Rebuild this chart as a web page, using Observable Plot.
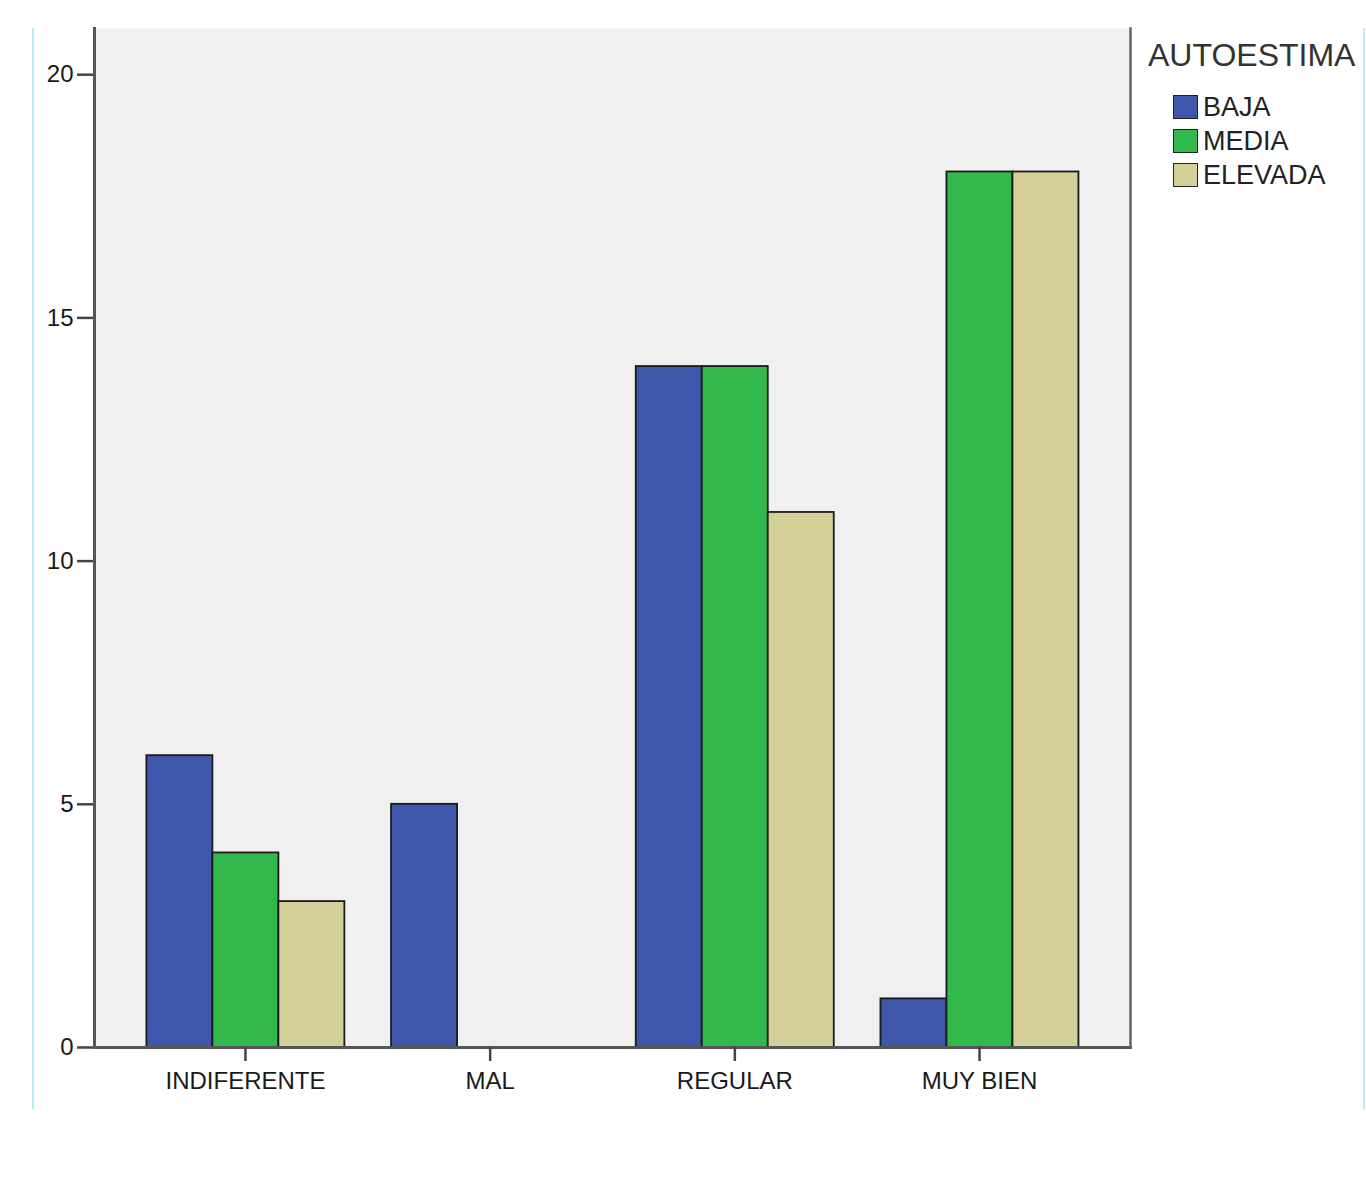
<!DOCTYPE html>
<html>
<head>
<meta charset="utf-8">
<script src="https://cdn.jsdelivr.net/npm/d3@7"></script>
<script src="https://cdn.jsdelivr.net/npm/@observablehq/plot@0.6"></script>
<style>
  body { margin: 0; background: #fff; font-family: "Liberation Sans", Arial, sans-serif; }
  #wrap { position: relative; width: 1366px; height: 1178px; }
  #chart { position: absolute; left: 0; top: 0; }
  .edge { position: absolute; top: 28px; height: 1081px; width: 2px; background: #b4eef8; }
  #legend { position: absolute; left: 1148px; top: 39px; color: #333; }
  #legend .title { font-size: 32px; line-height: 32px; margin-bottom: 19px; }
  #legend .item { display: flex; align-items: center; height: 34px; margin-left: 25px; }
  #legend .sw { width: 23px; height: 22px; border: 1.5px solid #222; box-sizing: content-box; margin-right: 5px; }
  #legend .lab { font-size: 27px; line-height: 27px; color: #222; }
</style>
</head>
<body>
<div id="wrap">
  <div id="chart"></div>
  <div class="edge" style="left:32px"></div>
  <div class="edge" style="left:1363px"></div>
  <div id="legend"></div>
</div>
<script>
const categories = ["INDIFERENTE", "MAL", "REGULAR", "MUY BIEN"];
const series = ["BAJA", "MEDIA", "ELEVADA"];
const baja = [6, 5, 14, 1];
const media = [4, 0, 14, 18];
const elevada = [3, 0, 11, 18];
const seriesColors = ["#3f57ab", "#33b84b", "#d5d09a"];
const yTicks = [0, 5, 10, 15, 20];
const legendTitle = "AUTOESTIMA";

const values = [baja, media, elevada];
const rows = [];
categories.forEach((c, i) => {
  series.forEach((s, j) => {
    rows.push({category: c, series: s, value: values[j][i]});
  });
});

const W = 1366, H = 1178, ML = 94, MR = 236, MT = 28, MB = 131;
const fxOptions = {domain: categories, paddingInner: 0.186, paddingOuter: 0.21, round: false};
// offset of first facet from the plot's left edge (so the y axis and frame sit on the plot edge)
const fxProbe = Plot.scale({x: {type: "band", ...fxOptions, range: [ML, W - MR]}});
const shift = fxProbe.apply(categories[0]) - ML;

const plot = Plot.plot({
  width: W,
  height: H,
  marginLeft: ML,
  marginRight: MR,
  marginTop: MT,
  marginBottom: MB,
  style: {fontFamily: "'Liberation Sans', Arial, sans-serif", fontSize: "24px", color: "#1a1a1a", background: "transparent", overflow: "visible"},
  fx: {...fxOptions, label: null},
  x: {domain: series, padding: 0, axis: null},
  y: {domain: [0, 20.95], label: null},
  color: {domain: series, range: seriesColors},
  marks: [
    Plot.frame({facet: "super", fill: "#f0f0f0", stroke: "none", insetLeft: -shift, insetRight: -shift}),
    Plot.barY(rows, {fx: "category", x: "series", y: "value", fill: "series", stroke: "#1a1a1a", strokeWidth: 1.8, filter: d => d.value > 0}),
    Plot.axisY({facetAnchor: "left", dx: -shift, ticks: yTicks, tickSize: 17, tickPadding: 4, label: null, stroke: "#444", strokeWidth: 2.5, color: "#1a1a1a"}),
    Plot.frame({facet: "super", anchor: "left", stroke: "#555", strokeWidth: 3, insetLeft: -shift}),
    Plot.frame({facet: "super", anchor: "bottom", stroke: "#555", strokeWidth: 3, insetLeft: -shift, insetRight: -shift}),
    Plot.frame({facet: "super", anchor: "right", stroke: "#666", strokeWidth: 2.5, insetRight: -shift}),
    Plot.axisFx({anchor: "bottom", tickSize: 14, tickPadding: 10, label: null, stroke: "#444", strokeWidth: 2.5, color: "#1a1a1a"})
  ]
});
document.getElementById("chart").appendChild(plot);

const colorScale = plot.scale("color");
const legend = d3.select("#legend");
legend.append("div").attr("class", "title").text(legendTitle);
series.forEach((s, i) => {
  const item = legend.append("div").attr("class", "item");
  item.append("div").attr("class", "sw").style("background", colorScale.range[i]);
  item.append("div").attr("class", "lab").text(s);
});
</script>
</body>
</html>
